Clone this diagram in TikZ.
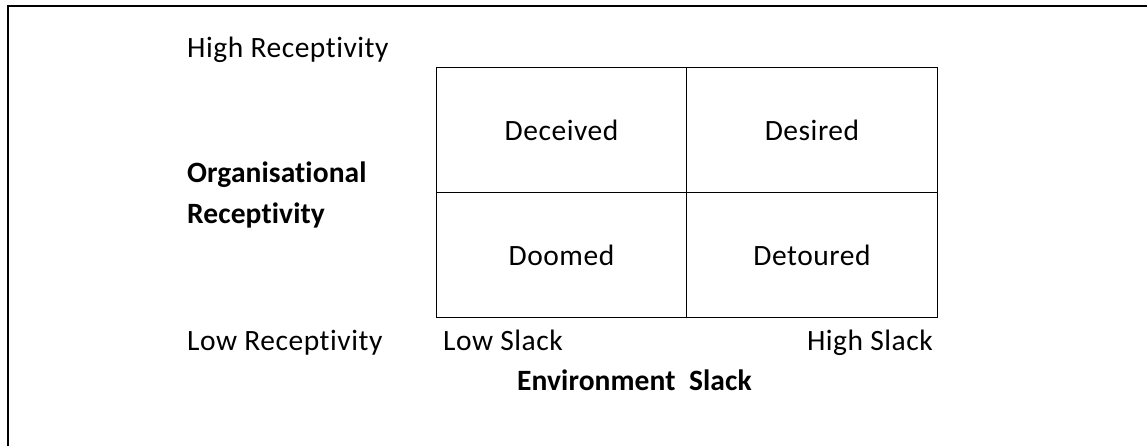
\documentclass[tikz,border=0pt]{standalone}
\usepackage{fontspec}
\setmainfont{Carlito}[Ligatures={NoCommon}, LetterSpace=1.8,
  BoldFeatures={LetterSpace=0.3}]
\begin{document}
\begin{tikzpicture}[x=1pt,y=-1pt,
  lbl/.style={inner sep=0pt, font=\fontsize{29.5}{40}\selectfont},
  axis/.style={lbl, font=\fontsize{29.5}{40}\selectfont\bfseries},
  cell/.style={draw=black, line width=1.3pt, minimum width=250.5pt,
    minimum height=125pt, inner sep=0pt, font=\fontsize{29.5}{40}\selectfont},
  frame/.style={draw=black, line width=2.2pt}]
\useasboundingbox (0,0) rectangle (1147,446);

% outer frame (top and left edges)
\draw[frame] (8,447) -- (8,6) -- (1148,6);

% the 2x2 matrix
\node[cell] (deceived) at (561.5,130) {Deceived};
\node[cell] (desired)  at (812,130)   {Desired};
\node[cell] (doomed)   at (561.5,255) {Doomed};
\node[cell] (detoured) at (812,255)   {Detoured};

% vertical axis labels
\node[lbl, anchor=base west] (highrec) at (187,58) {High Receptivity};
\node[axis, anchor=base west] (orgA) at (187,183) {Organisational};
\node[axis, anchor=base west] (orgB) at (187,223) {Receptivity};
\node[lbl, anchor=base west] (lowrec) at (187,350) {Low Receptivity};

% horizontal axis labels
\node[lbl, anchor=base west] (lowslack) at (443,350) {Low Slack};
\node[lbl, anchor=base east] (highslack) at (933,350) {High Slack};
\node[axis, anchor=base west] (envslack) at (517,390) {Environment\ \ Slack};
\end{tikzpicture}
\end{document}
